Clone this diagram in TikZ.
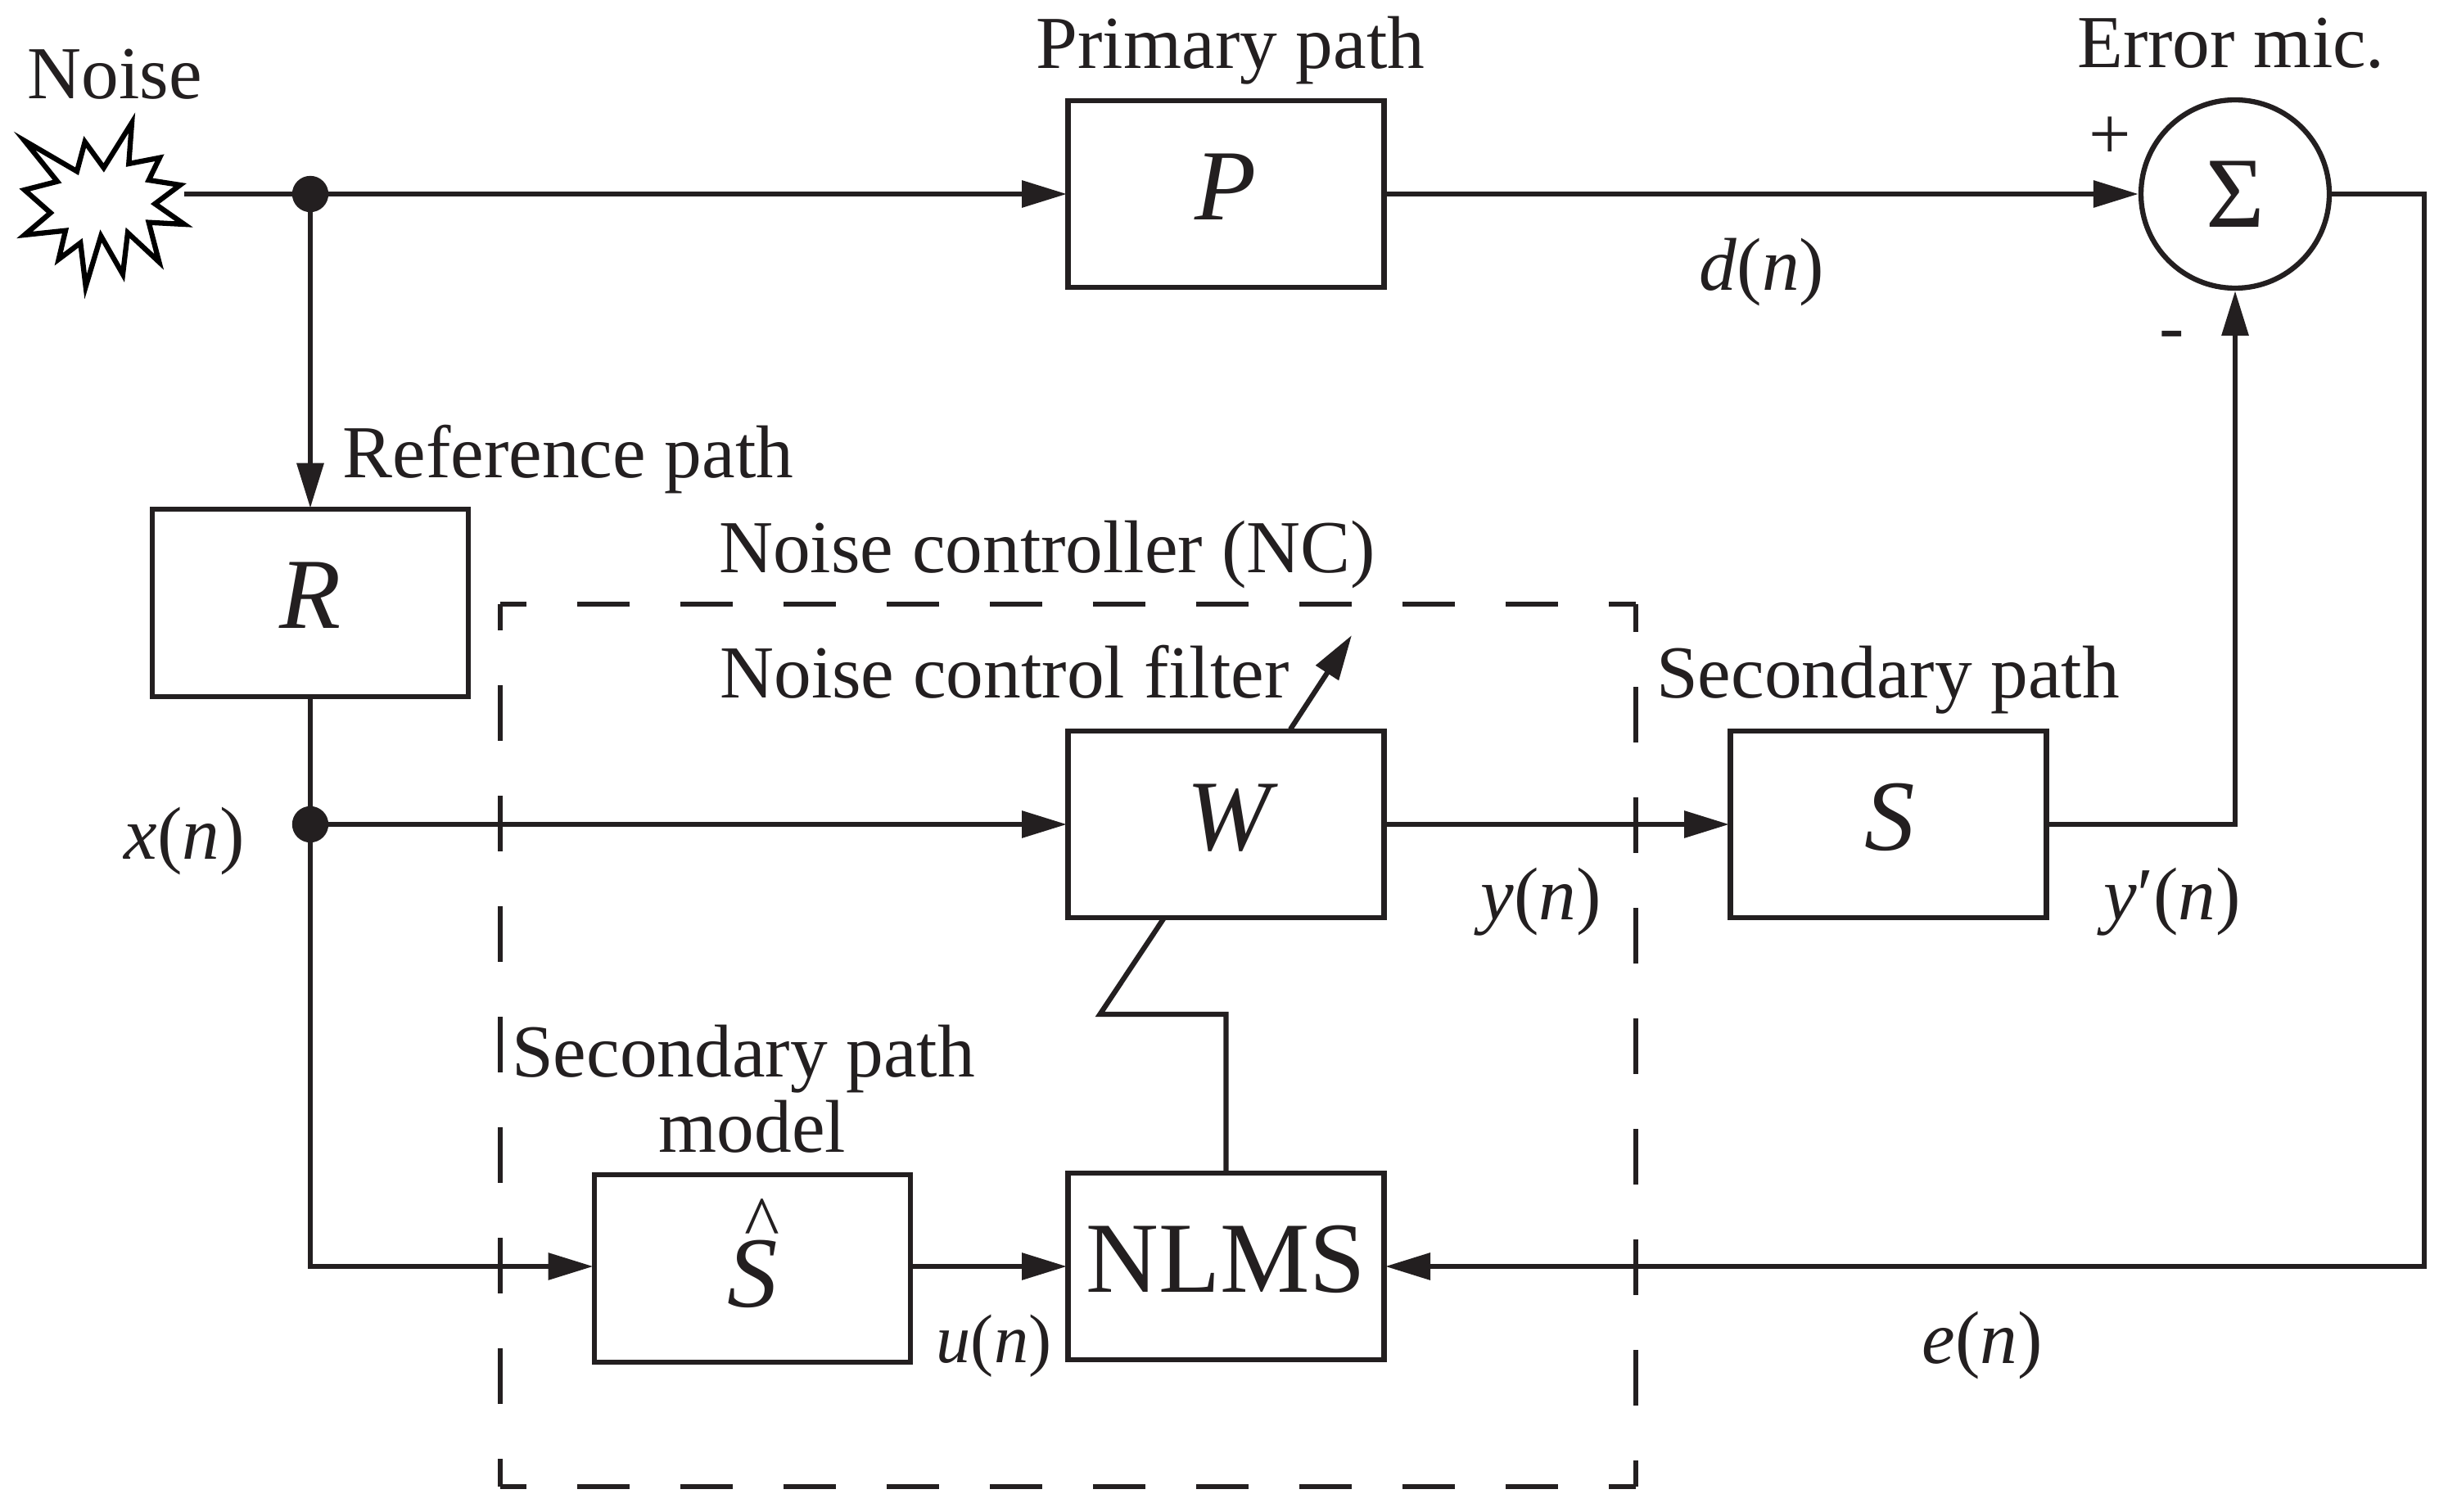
\documentclass[tikz,border=0pt]{standalone}
\usepackage{fontspec}
\setmainfont{Liberation Serif}
\usetikzlibrary{arrows.meta}
\definecolor{inkc}{HTML}{231F20}
\tikzset{
    blk/.style={rectangle, draw, minimum width=3.86cm, minimum height=2.285cm, inner sep=0pt, outer sep=0.015cm, text depth=0.18cm, font=\fontsize{35}{40}\selectfont},
    dotj/.style={circle, draw, fill=inkc, minimum size=0.38cm, inner sep=0pt},
    lbl/.style={anchor=base, inner sep=0pt, font=\fontsize{26}{30}\selectfont},
    sgn/.style={anchor=center, inner sep=0pt, font=\fontsize{26}{30}\selectfont},
    wire/.style={-{Triangle[length=5.5mm,width=3.2mm]}},
    ncH/.style={dash pattern=on 0.64cm off 0.62cm, dash phase=0.32cm},
    ncV/.style={dash pattern=on 0.68cm off 0.67cm, dash phase=0.34cm}
}
\newcommand{\hatS}{\makebox[0pt][l]{\hspace*{0.21cm}\raisebox{0.72cm}[0pt][0pt]{\fontsize{26}{30}\selectfont\textasciicircum}}\textit{S}}
\begin{document}
\begin{tikzpicture}[color=inkc, line width=0.063cm]
    \useasboundingbox (0,0) rectangle (29.9,18.46);

    \node at (14.975,16.09) [blk] (P) {\textit{P}};
    \node at (3.79,11.095) [blk] (R) {\textit{R}};
    \node at (14.975,8.39) [blk] (W) {\hspace*{0.16cm}\textit{W}};
    \node at (23.065,8.39) [blk] (S) {\hspace*{0.04cm}\textit{S}};
    \node at (9.19,2.965) [blk, text depth=0cm, text height=0.94cm] (Shat) {\hatS};
    \node at (14.975,2.99) [blk] (NLMS) {NLMS};
    \node at (27.30,16.09) [circle, draw, minimum size=2.30cm, inner sep=0pt, font=\fontsize{35}{40}\selectfont] (sum) {Σ};

    \node at (3.79,16.09) [dotj] (jtop) {};
    \node at (3.79,8.39) [dotj] (jmid) {};

    \coordinate (noise) at (2.25,16.09);
    \coordinate (errtop) at (29.61,16.09);
    \coordinate (errbot) at (29.61,2.99);
    \coordinate (ncNW) at (6.11,11.08);
    \coordinate (ncNE) at (19.98,11.08);
    \coordinate (ncSW) at (6.11,0.30);
    \coordinate (ncSE) at (19.98,0.30);
    \coordinate (adaptA) at (14.975,6.07);
    \coordinate (adaptB) at (13.435,6.07);
    \coordinate (adaptC) at (14.22,7.25);
    \coordinate (tuneA) at (15.76,9.55);
    \coordinate (tuneB) at (16.51,10.70);

    \draw[black] (0.30,16.74) -- (0.94,16.367) -- (1.037,16.727) -- (1.267,16.41) -- (1.61,16.96)
        -- (1.573,16.46) -- (1.95,16.533) -- (1.817,16.26) -- (2.2,16.2) -- (1.893,15.97)
        -- (2.25,15.72) -- (1.817,15.743) -- (1.943,15.26) -- (1.56,15.617) -- (1.5,15.11)
        -- (1.233,15.577) -- (1.047,14.96) -- (0.983,15.493) -- (0.717,15.293) -- (0.8,15.643)
        -- (0.30,15.59) -- (0.617,15.86) -- (0.30,16.14) -- (0.7,16.243) -- cycle;

    \draw[ncH] (ncNW) -- (ncNE);
    \draw[ncH] (ncSW) -- (ncSE);
    \draw[ncV] (ncNE) -- (ncSE);
    \draw[ncV] (ncSW) -- (ncNW);

    \draw (noise) -- (jtop);
    \draw[wire] (jtop) -- (P);
    \draw[wire] (P) -- (sum);
    \draw[wire] (jtop) -- (R);
    \draw (R) -- (jmid);
    \draw[wire] (jmid) -- (W);
    \draw[wire] (jmid) |- (Shat.west |- NLMS.west);
    \draw[wire] (Shat.east |- NLMS.west) -- (NLMS);
    \draw[wire] (W) -- (S);
    \draw[wire] (S) -| (sum);
    \draw[wire] (sum) -- (errtop) -- (errbot) -- (NLMS);
    \draw (NLMS) -- (adaptA) -- (adaptB) -- (adaptC);
    \draw[wire] (tuneA) -- (tuneB);

    \node at (1.40,17.25) [lbl] (noiseText) {Noise};
    \node at (15.03,17.62) [lbl] (primaryText) {Primary path};
    \node at (27.25,17.63) [lbl] (errorText) {Error mic.};
    \node at (25.77,16.77) [sgn] (plusText) {+};
    \node at (26.53,14.29) [sgn] (minusText) {\textit{-}};
    \node at (21.52,14.91) [lbl] (dText) {\textit{d}(\textit{n})};
    \node at (6.94,12.62) [lbl] (refText) {Reference path};
    \node at (12.79,11.46) [lbl] (ncText) {Noise controller (NC)};
    \node at (12.27,9.94) [lbl] (filterText) {Noise control filter};
    \node at (23.06,9.94) [lbl] (secText) {Secondary path};
    \node at (2.25,7.97) [lbl] (xText) {\textit{x}(\textit{n})};
    \node at (18.82,7.23) [lbl] (yText) {\textit{y}(\textit{n})};
    \node at (26.53,7.23) [lbl] (ypText) {\textit{y}′(\textit{n})};
    \node at (9.08,5.31) [lbl] (modelTextA) {Secondary path};
    \node at (9.19,4.39) [lbl] (modelTextB) {model};
    \node at (12.14,1.82) [lbl, font=\fontsize{24}{28}\selectfont] (uText) {\textit{u}(\textit{n})};
    \node at (24.21,1.81) [lbl] (eText) {\textit{e}(\textit{n})};
\end{tikzpicture}
\end{document}
